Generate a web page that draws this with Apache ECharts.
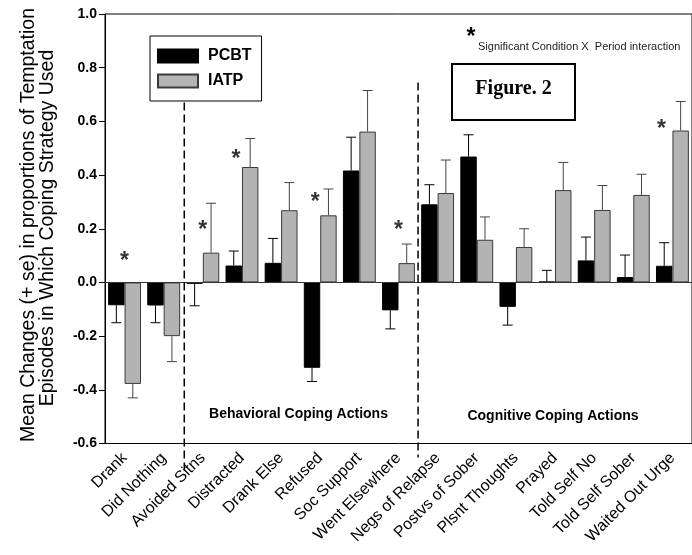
<!DOCTYPE html>
<html><head><meta charset="utf-8">
<script src="https://cdn.jsdelivr.net/npm/echarts@6/dist/echarts.min.js"></script>
<style>html,body{margin:0;padding:0;background:#fff}#c{width:692px;height:555px}</style>
</head><body><div id="c"></div>
<script>
const categories = ['Drank','Did Nothing','Avoided Sitns','Distracted','Drank Else','Refused','Soc Support','Went Elsewhere','Negs of Relapse','Postvs of Sober','Plsnt Thoughts','Prayed','Told Self No','Told Self Sober','Waited Out Urge'];
const pcbtMean = [-0.085, -0.086, -0.005, 0.063, 0.073, -0.318, 0.417, -0.104, 0.291, 0.469, -0.091, 0.003, 0.082, 0.020, 0.062];
const pcbtSE   = [0.065, 0.064, 0.082, 0.054, 0.091, 0.051, 0.124, 0.069, 0.073, 0.081, 0.068, 0.042, 0.087, 0.082, 0.086];
const iatpMean = [-0.378, -0.200, 0.111, 0.430, 0.269, 0.250, 0.562, 0.072, 0.333, 0.159, 0.132, 0.344, 0.270, 0.326, 0.566];
const iatpSE   = [0.052, 0.095, 0.184, 0.106, 0.103, 0.098, 0.153, 0.071, 0.123, 0.085, 0.068, 0.103, 0.091, 0.077, 0.108];
const starCategories = ['Drank','Avoided Sitns','Distracted','Refused','Went Elsewhere','Waited Out Urge'];
const starValues = [0.078, 0.193, 0.458, 0.298, 0.193, 0.568];
const seriesNames = ['PCBT','IATP'];
const yMin = -0.6, yMax = 1.0, yStep = 0.2;

const starOffsets = [0, 0, -6, -5, 0, -11];
const FONT = 'Liberation Sans, Arial, sans-serif';
const BAR_FRAC = 0.42;

const chart = echarts.init(document.getElementById('c'), null, {renderer:'canvas'});

function errSeries(name, means, ses, side, color) {
  return {
    type: 'custom', name: name, z: 5, silent: true,
    data: means.map((m, i) => [i, m, ses[i]]),
    encode: {x: 0, y: 1},
    renderItem: function (params, api) {
      const i = api.value(0), m = api.value(1), se = api.value(2);
      const bw = api.size([1, 0])[0];
      const base = api.coord([i, m]);
      const x = base[0] + side * bw * BAR_FRAC / 2;
      const end = m + (m >= 0 ? 1 : -1) * se;
      const pEnd = api.coord([i, end]);
      return {type: 'group', children: [
        {type: 'line', shape: {x1: x, y1: base[1], x2: x, y2: pEnd[1]}, style: {stroke: color, lineWidth: 1}},
        {type: 'line', shape: {x1: x - 5, y1: pEnd[1], x2: x + 5, y2: pEnd[1]}, style: {stroke: color, lineWidth: 1}}
      ]};
    }
  };
}

const option = {
  animation: false,
  backgroundColor: '#fff',
  textStyle: {fontFamily: FONT},
  grid: {left: 105, top: 14, width: 591, height: 429.5, show: true, borderColor: '#000', borderWidth: 1, backgroundColor: 'transparent'},
  legend: {
    data: seriesNames, orient: 'vertical', left: 150, top: 36, icon: 'rect',
    itemWidth: 40, itemHeight: 13, itemGap: 9,
    padding: [12, 10, 12, 7], borderColor: '#000', borderWidth: 1,
    textStyle: {fontFamily: FONT, fontSize: 16, fontWeight: 'bold', color: '#000', padding: [0, 0, 0, 5]},
    selectedMode: false
  },
  xAxis: {
    type: 'category', data: categories,
    axisLine: {lineStyle: {color: '#000', width: 1}},
    axisTick: {alignWithLabel: true, length: 6, lineStyle: {color: '#000'}},
    axisLabel: {rotate: 45, fontSize: 16, color: '#000', margin: 12, fontFamily: FONT, interval: 0},
    splitLine: {show: false}
  },
  yAxis: {
    type: 'value', min: yMin, max: yMax, interval: yStep,
    axisLine: {show: true, lineStyle: {color: '#000', width: 1}},
    axisTick: {show: true, length: 6, lineStyle: {color: '#000'}},
    axisLabel: {fontSize: 14, fontWeight: 'bold', color: '#000', margin: 8, fontFamily: FONT,
      formatter: v => v.toFixed(1)},
    splitLine: {show: false}
  },
  series: [
    {name: 'PCBT', type: 'bar', data: pcbtMean, barWidth: (BAR_FRAC * 100) + '%', barGap: '0%',
      itemStyle: {color: '#000', borderColor: '#000', borderWidth: 1},
      markLine: {silent: true, symbol: 'none', label: {show: false},
        lineStyle: {color: '#333', width: 1, type: 'solid'}, data: [{yAxis: 0}]}},
    {name: 'IATP', type: 'bar', data: iatpMean, barWidth: (BAR_FRAC * 100) + '%', barGap: '0%',
      itemStyle: {color: '#b3b3b3', borderColor: '#3a3a3a', borderWidth: 1}},
    errSeries('pcbtErr', pcbtMean, pcbtSE, -1, '#000'),
    errSeries('iatpErr', iatpMean, iatpSE, 1, '#444'),
    {name: 'stars', type: 'scatter', symbolSize: 1, itemStyle: {color: 'rgba(0,0,0,0)'}, z: 6, silent: true,
      data: starCategories.map((c, k) => ({value: [c, starValues[k]], label: {offset: [starOffsets[k], 0]}})),
      label: {show: true, position: 'inside', formatter: '*', fontSize: 23, fontWeight: 'bold', color: '#000', fontFamily: FONT}}
  ],
  graphic: [
    {type: 'text', x: 29, y: 225, rotation: Math.PI / 2, style: {text: 'Mean Changes (+ se) in proportions of Temptation', font: '19.5px ' + FONT, fill: '#000', align: 'center', verticalAlign: 'middle'}},
    {type: 'text', x: 48, y: 228, rotation: Math.PI / 2, style: {text: 'Episodes in Which Coping Strategy Used', font: '19.5px ' + FONT, fill: '#000', align: 'center', verticalAlign: 'middle'}},
    {type: 'text', x: 471, y: 38, style: {text: '*', font: 'bold 23px ' + FONT, fill: '#000', align: 'center', verticalAlign: 'middle'}},
    {type: 'text', x: 478, y: 47, style: {text: 'Significant Condition X  Period interaction', font: '11px ' + FONT, fill: '#222', align: 'left', verticalAlign: 'middle'}},
    {type: 'rect', shape: {x: 452, y: 64, width: 123, height: 56}, style: {fill: '#fff', stroke: '#000', lineWidth: 2}},
    {type: 'text', x: 513.5, y: 89, style: {text: 'Figure. 2', font: 'bold 20px Liberation Serif, Times New Roman, serif', fill: '#000', align: 'center', verticalAlign: 'middle'}},
    {type: 'text', x: 298.5, y: 414, style: {text: 'Behavioral Coping Actions', font: 'bold 14px ' + FONT, fill: '#000', align: 'center', verticalAlign: 'middle'}},
    {type: 'text', x: 553, y: 416, style: {text: 'Cognitive Coping Actions', font: 'bold 14px ' + FONT, fill: '#000', align: 'center', verticalAlign: 'middle'}}
  ]
};
chart.setOption(option);

// dashed separators between category groups, positioned via the axis scales
const xa = chart.convertToPixel({xAxisIndex: 0}, 'Did Nothing');
const xb = chart.convertToPixel({xAxisIndex: 0}, 'Avoided Sitns');
const xc = chart.convertToPixel({xAxisIndex: 0}, 'Went Elsewhere');
const xd = chart.convertToPixel({xAxisIndex: 0}, 'Negs of Relapse');
const yBottom = chart.convertToPixel({yAxisIndex: 0}, yMin);
const g = option.graphic.slice();
g.push({type: 'line', z: 10, shape: {x1: (xa + xb) / 2 + 1, y1: chart.convertToPixel({yAxisIndex: 0}, 0.67), x2: (xa + xb) / 2 + 1, y2: yBottom + 27},
  style: {stroke: '#000', lineWidth: 1.5, lineDash: [8, 4]}});
g.push({type: 'line', z: 10, shape: {x1: (xc + xd) / 2, y1: chart.convertToPixel({yAxisIndex: 0}, 0.745), x2: (xc + xd) / 2, y2: yBottom + 14},
  style: {stroke: '#000', lineWidth: 1.5, lineDash: [8, 4]}});
chart.setOption({graphic: g});
</script></body></html>
